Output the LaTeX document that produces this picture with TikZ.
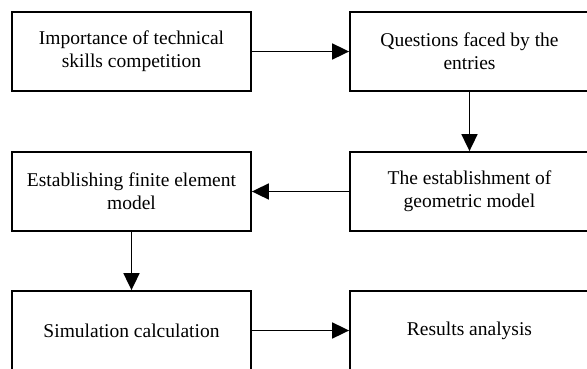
\documentclass[tikz,border=0pt]{standalone}
\usepackage{fontspec}
\setmainfont{Liberation Serif}
\usetikzlibrary{arrows.meta}
\begin{document}
\begin{tikzpicture}[x=1pt,y=-1pt,
  flowbox/.style={draw=black,line width=1.8pt,minimum width=239pt,minimum height=79pt,
    inner sep=0pt,align=center,font=\fontsize{19.5pt}{23.4pt}\selectfont},
  flowarrow/.style={line width=1.8pt,-{Triangle[length=17pt,width=16pt]}}]
\useasboundingbox (0,0) rectangle (587,368);
\clip (0,0) rectangle (587,368);
\node[flowbox] (imp) at (131.5,51.5) {Importance of technical\\skills competition};
\node[flowbox] (que) at (469.5,51.5) {Questions faced by the\\entries};
\node[flowbox] (geo) at (469.5,191.5) {The establishment of\\geometric model};
\node[flowbox] (fin) at (131.5,191.5) {Establishing finite element\\model};
\node[flowbox] (sim) at (131.5,330.5) {Simulation calculation};
\node[flowbox] (res) at (469.5,330.5) {Results analysis};
\draw[flowarrow] (imp) -- (que);
\draw[flowarrow] (que) -- (geo);
\draw[flowarrow] (geo) -- (fin);
\draw[flowarrow] (fin) -- (sim);
\draw[flowarrow] (sim) -- (res);
\end{tikzpicture}
\end{document}
